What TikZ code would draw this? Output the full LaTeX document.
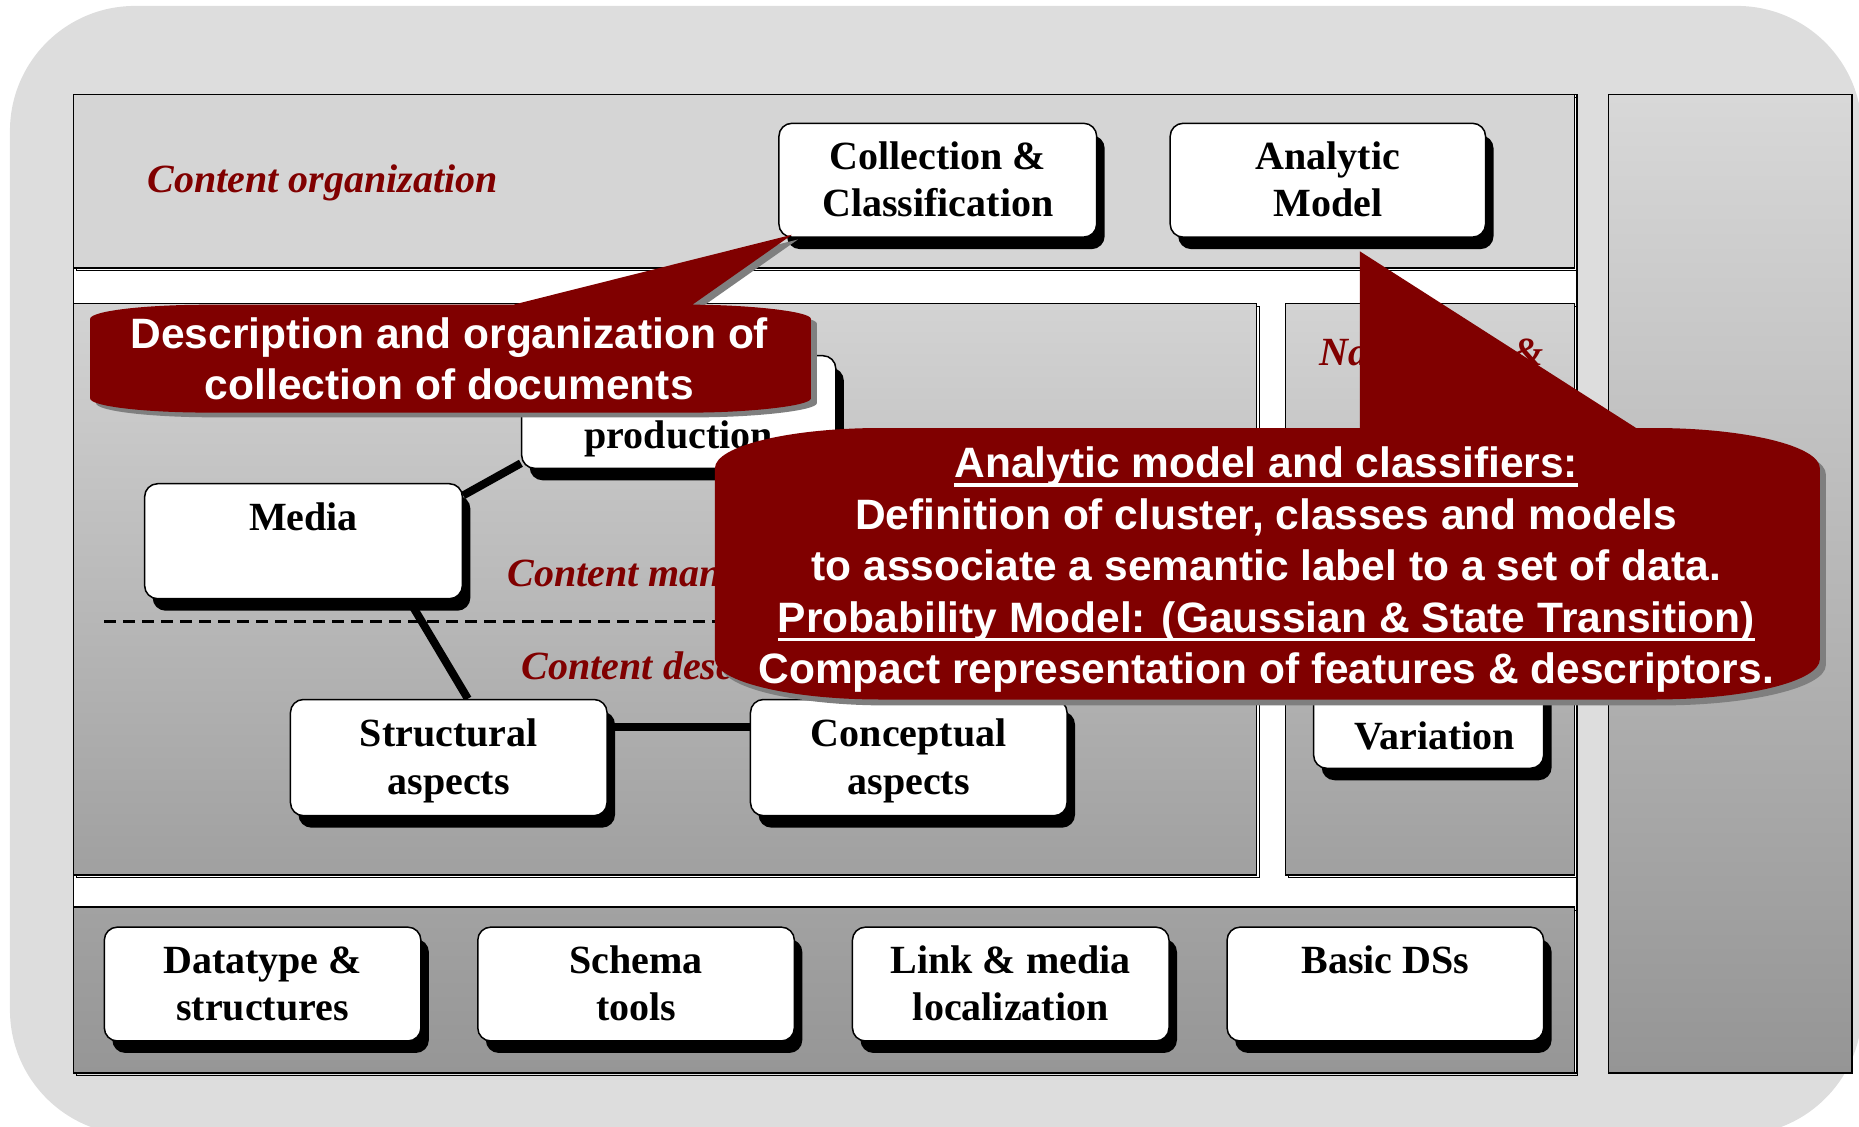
\documentclass[tikz,border=0pt]{standalone}
\usepackage{fontspec}
\setmainfont{Liberation Serif}
\newfontfamily\calloutfont{Liberation Sans}
\usetikzlibrary{shadows}

\definecolor{bggray}{HTML}{DDDDDD}
\definecolor{bandgray}{HTML}{D5D5D5}
\definecolor{paneltop}{HTML}{D3D3D3}
\definecolor{panelbottom}{HTML}{A0A0A0}
\definecolor{coltop}{HTML}{D8D8D8}
\definecolor{colbottom}{HTML}{959595}
\definecolor{basetop}{HTML}{A2A2A2}
\definecolor{basebottom}{HTML}{969696}
\definecolor{calloutred}{HTML}{800000}
\definecolor{calloutshade}{HTML}{7F7F7F}

% underlined line inside a callout
\newsavebox\ulinebox
\newcommand\undl[1]{\sbox\ulinebox{#1}\rlap{\rule[-9pt]{\wd\ulinebox}{3.5pt}}\usebox\ulinebox}
% line strut for the box labels
\newcommand\bs{\rule[-10.7pt]{0pt}{47.4pt}}

\pgfdeclarelayer{panels}
\pgfdeclarelayer{links}
\pgfdeclarelayer{callouts}
\pgfsetlayers{panels,links,main,callouts}

\begin{document}
\begin{tikzpicture}[x=1.1856pt, y=-1.1856pt,
  box/.style={draw=black, line width=1.5pt, fill=white, rounded corners=13pt,
    align=center, inner sep=0pt,
    font=\fontsize{40}{47.4}\selectfont\bfseries,
    drop shadow={shadow xshift=8pt, shadow yshift=-12pt, fill=black, opacity=1}},
  sz/.style 2 args={minimum width={#1*1.1856pt}, minimum height={#2*1.1856pt}},
  link/.style={line width=8pt, black},
  layerlabel/.style={text=calloutred, inner sep=0pt,
    font=\fontsize{40}{47.4}\selectfont\bfseries\itshape},
  callouttext/.style={text=white, align=center, inner sep=0pt,
    font=\calloutfont\bfseries\fontsize{42.5}{51.5}\selectfont},
  panel/.style={draw=black, line width=1.3pt},
  panelrim/.style={draw=black, line width=0.9pt}
]
\useasboundingbox (0,0) rectangle (1568,949.8);

% ---------- background and layer panels ----------
\begin{pgfonlayer}{panels}
  \fill[bggray, rounded corners=125pt] (8.4,5) rectangle (1570.5,957.3);
  \filldraw[fill=white, panel] (62,80) rectangle (1330,905);
  % content organization band
  \draw[panelrim] (64.5,82.5) rectangle (1330.5,228.5);
  \filldraw[fill=bandgray, panel] (62,80) rectangle (1328,226);
  % content management / description panel
  \draw[panelrim] (64.5,258.5) rectangle (1062.5,740.5);
  \path[panel, top color=paneltop, bottom color=panelbottom] (62,256) rectangle (1060,738);
  % navigation & access panel
  \draw[panelrim] (1086.5,258.5) rectangle (1330.5,740.5);
  \path[panel, top color=paneltop, bottom color=panelbottom] (1084,256) rectangle (1328,738);
  % basic elements band
  \draw[panelrim] (64.5,767.5) rectangle (1330.5,907.5);
  \path[panel, top color=basetop, bottom color=basebottom] (62,765) rectangle (1328,905);
  % side column
  \path[draw=black, line width=1.2pt, top color=coltop, bottom color=colbottom] (1357,80) rectangle (1562,905);
  % boundary between management and description
  \draw[line width=2.6pt, dash pattern=on 12pt off 7pt] (88,524) -- (1045,524);
\end{pgfonlayer}

% ---------- layer labels ----------
\node[layerlabel, anchor=base] (lblorg) at (272,162) {Content organization};
\node[layerlabel, anchor=base west] (lblman) at (428,495) {Content man};
\node[layerlabel, anchor=base west] (lbldesc) at (440,573) {Content desc};
\node[layerlabel, anchor=base west] (lblnav) at (1113,308) {Navigation \&};

% ---------- description scheme boxes ----------
\node[box, sz={268}{96}] (coll) at (791,152) {\bs Collection \&\\\bs Classification};
\node[box, sz={266}{96}] (anmod) at (1120,152) {\bs Analytic\\\bs Model};
\node[box, sz={265}{95}] (prod) at (572.5,347.5) {\bs\\\bs production};
\node[box, sz={268}{97}] (media) at (256,456.5) {\bs Media\\\bs};
\node[box, sz={267}{98}] (struct) at (378.5,639) {\bs Structural\\\bs aspects};
\node[box, sz={267}{98}] (concept) at (766.5,639) {\bs Conceptual\\\bs aspects};
\node[box, sz={194}{93}] (variation) at (1205,601.5) {\bs\\\bs\hspace*{12pt}Variation};
\node[box, sz={267}{96}] (dtype) at (221.5,830) {\bs Datatype \&\\\bs structures};
\node[box, sz={267}{96}] (schema) at (536.5,830) {\bs Schema\\\bs tools};
\node[box, sz={267}{96}] (linkloc) at (852.5,830) {\bs Link \& media\\\bs localization};
\node[box, sz={267}{96}] (basic) at (1168.5,830) {\bs Basic DSs\\\bs};

% ---------- links between boxes ----------
\begin{pgfonlayer}{links}
  \draw[link] (media.16) -- (prod.198);
  \draw[link] (media.331) -- (struct.72);
  \draw[link] (struct.11) -- (concept.169);
\end{pgfonlayer}

% ---------- callouts ----------
\begin{pgfonlayer}{callouts}
  % collection callout
  \fill[calloutshade, shift={(5,4)}]
    (76,269) .. controls (76,262.4) and (120.8,257) .. (176,257)
    -- (433,257) -- (668,198) -- (584,257)
    .. controls (628.8,257) and (684,262.4) .. (684,269)
    -- (684,336)
    .. controls (684,342.6) and (628.8,348) .. (584,348)
    -- (176,348)
    .. controls (120.8,348) and (76,342.6) .. (76,336) -- cycle;
  \fill[calloutred]
    (76,269) .. controls (76,262.4) and (120.8,257) .. (176,257)
    -- (433,257) -- (668,198) -- (584,257)
    .. controls (628.8,257) and (684,262.4) .. (684,269)
    -- (684,336)
    .. controls (684,342.6) and (628.8,348) .. (584,348)
    -- (176,348)
    .. controls (120.8,348) and (76,342.6) .. (76,336) -- cycle;
  \node[callouttext] (colltext) at (379,306.8)
    {\strut Description and organization of\\\strut collection of documents};

  % analytic model callout
  \fill[calloutshade, shift={(5,5)}]
    (603,395) .. controls (603,376.2) and (665.7,361) .. (743,361)
    -- (1395,361)
    .. controls (1472.3,361) and (1535,376.2) .. (1535,395)
    -- (1535,556)
    .. controls (1535,574.8) and (1472.3,590) .. (1395,590)
    -- (743,590)
    .. controls (665.7,590) and (603,574.8) .. (603,556) -- cycle;
  \fill[calloutred]
    (603,395) .. controls (603,376.2) and (665.7,361) .. (743,361)
    -- (1147,361) -- (1147,212) -- (1380,361) -- (1395,361)
    .. controls (1472.3,361) and (1535,376.2) .. (1535,395)
    -- (1535,556)
    .. controls (1535,574.8) and (1472.3,590) .. (1395,590)
    -- (743,590)
    .. controls (665.7,590) and (603,574.8) .. (603,556) -- cycle;
  \node[callouttext] (modeltext) at (1068,481)
    {\strut\undl{Analytic model and classifiers:}\\
     \strut Definition of cluster, classes and models\\
     \strut to associate a semantic label to a set of data.\\
     \strut\undl{Probability Model: (Gaussian \& State Transition)}\\
     \strut Compact representation of features \& descriptors.};
\end{pgfonlayer}
\end{tikzpicture}
\end{document}
